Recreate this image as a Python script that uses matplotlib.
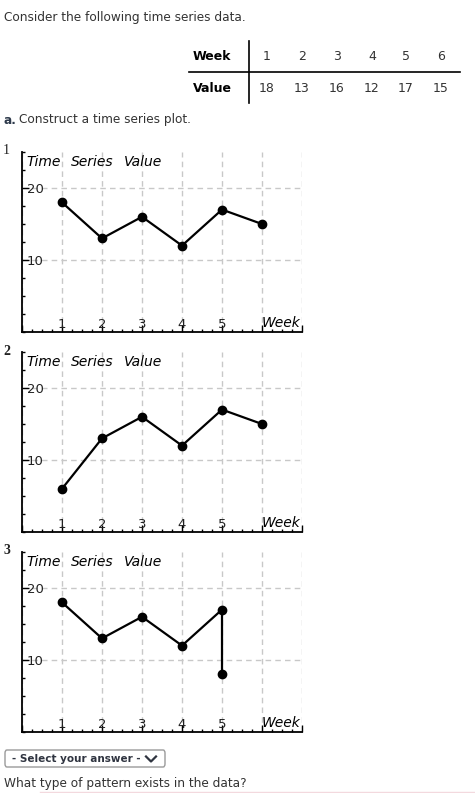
import matplotlib
matplotlib.use("Agg")
import matplotlib.pyplot as plt
from matplotlib.patches import FancyBboxPatch
from matplotlib.lines import Line2D
from matplotlib.ticker import MultipleLocator

W, H = 475, 793
TXT = "#333333"

# data from the table
weeks = [1, 2, 3, 4, 5, 6]
values = [18, 13, 16, 12, 17, 15]

# the three answer choices
opt_labels = ["1", "2", "3"]
opt_weeks = [[1, 2, 3, 4, 5, 6],
             [1, 2, 3, 4, 5, 6],
             [1, 2, 3, 4, 5, 5]]
opt_values = [[18, 13, 16, 12, 17, 15],
              [6, 13, 16, 12, 17, 15],
              [18, 13, 16, 12, 17, 8]]
x_ticklabels = ["", "1", "2", "3", "4", "5", "", ""]
title_words = ["Time", "Series", "Value"]
title_x = [0.12, 1.22, 2.55]


def fx(x):
    return x / W


def fy(y):
    return 1 - y / H


fig = plt.figure(figsize=(W / 100, H / 100), dpi=100)
fig.patch.set_facecolor("white")

fig.text(fx(4), fy(18), "Consider the following time series data.", fontsize=8.7,
         color=TXT, va="center", ha="left")

# table
fig.text(fx(193), fy(56), "Week", fontsize=9, weight="bold", color="black", va="center")
fig.text(fx(193), fy(88), "Value", fontsize=9, weight="bold", color="black", va="center")
col_x = [267, 302, 337, 372, 406, 441]
for cx, wk, v in zip(col_x, weeks, values):
    fig.text(fx(cx), fy(56), str(wk), fontsize=9, color=TXT, ha="center", va="center")
    fig.text(fx(cx), fy(88), str(v), fontsize=9, color=TXT, ha="center", va="center")
fig.add_artist(Line2D([fx(249), fx(249)], [fy(41), fy(103)], color="black", lw=1.2))
fig.add_artist(Line2D([fx(189), fx(460)], [fy(72), fy(72)], color="black", lw=1.2))

fig.text(fx(4), fy(120), "a.", fontsize=8.7, weight="bold", color="#2f3b4c", va="center")
fig.text(fx(19), fy(120), "Construct a time series plot.", fontsize=8.7, color=TXT, va="center")

for i, (lab, xs, ys) in enumerate(zip(opt_labels, opt_weeks, opt_values)):
    top = 152 + 200 * i
    bot = 332 + 200 * i
    ax = fig.add_axes([fx(22), fy(bot), fx(302) - fx(22), (bot - top) / H])
    ax.set_xlim(0, 7)
    ax.set_ylim(0, 25)
    for s in ["top", "right"]:
        ax.spines[s].set_visible(False)
    for s in ["left", "bottom"]:
        ax.spines[s].set_linewidth(1.3)

    ax.set_xticks(range(0, 8))
    ax.set_xticklabels(x_ticklabels)
    ax.xaxis.set_minor_locator(MultipleLocator(0.25))
    ax.set_yticks([10, 20])
    ax.set_yticklabels(["10", "20"])
    ax.yaxis.set_minor_locator(MultipleLocator(2.5))
    ax.tick_params(axis="x", which="major", direction="in", length=5, width=1,
                   pad=-10, labelsize=9.5, labelcolor="#222222")
    ax.tick_params(axis="y", which="major", direction="in", length=5, width=1,
                   pad=-3.5, labelsize=9.5, labelcolor="#222222")
    ax.tick_params(which="minor", direction="in", length=2.5, width=1)
    for tl in ax.get_yticklabels():
        tl.set_ha("left")

    ax.grid(True, which="major", color="#c8c8c8", linestyle=(0, (4, 3)), linewidth=1)
    ax.set_axisbelow(True)

    ax.plot(xs, ys, color="black", lw=1.6, marker="o", markersize=6, zorder=3,
            clip_on=False)

    for w, tx in zip(title_words, title_x):
        ax.text(tx, 0.985, w, transform=ax.get_xaxis_transform(), fontsize=10,
                style="italic", color="black", ha="left", va="top")
    ax.text(6.95, 0.01, "Week", transform=ax.get_xaxis_transform(), fontsize=10,
            style="italic", color="black", ha="right", va="bottom")

    fig.text(fx(3), fy(top - 1), lab, fontsize=10, family="Liberation Serif",
             weight="normal" if i == 0 else "bold", color="#222222",
             ha="left", va="center")

# answer dropdown
box = FancyBboxPatch((fx(5), fy(767)), fx(160), (767 - 750) / H,
                     boxstyle="round,pad=0,rounding_size=0.004",
                     transform=fig.transFigure, facecolor="white",
                     edgecolor="#9a9a9a", lw=1)
fig.add_artist(box)
fig.text(fx(12), fy(759), "- Select your answer -", fontsize=7.5, weight="bold",
         color="#2f3440", va="center")
fig.add_artist(Line2D([fx(146), fx(151), fx(156)], [fy(756.5), fy(761.5), fy(756.5)],
                      color="#2f3440", lw=1.6))

fig.text(fx(4), fy(784), "What type of pattern exists in the data?", fontsize=8.7,
         color=TXT, va="center")
fig.add_artist(Line2D([fx(40), fx(475)], [fy(792), fy(792)], color="#f3d9de", lw=1))

fig.savefig("out.png", dpi=100, facecolor="white")
